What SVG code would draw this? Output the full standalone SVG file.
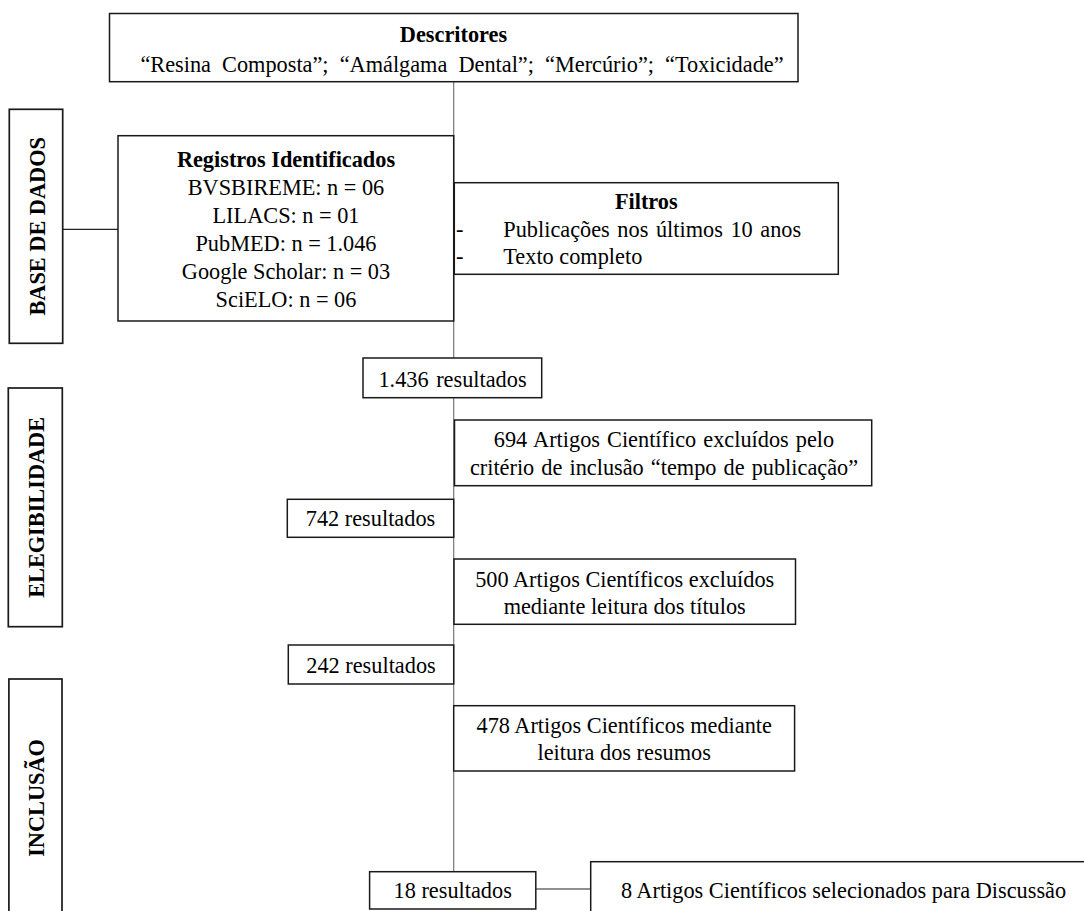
<svg xmlns="http://www.w3.org/2000/svg" width="1084" height="911" viewBox="0 0 1084 911">
<style>
text{font-family:"Liberation Serif","Times New Roman",serif;font-size:22.3px;fill:#000}
.b{font-weight:bold}
.c{text-anchor:middle}
.box{fill:#fff;stroke:#1a1a1a;stroke-width:1.5}
.side{fill:#fff;stroke:#1a1a1a;stroke-width:1.7}
.ln{stroke:#777;stroke-width:1.2;fill:none}
.lk{stroke:#222;stroke-width:1.2;fill:none}
</style>
<rect width="1084" height="911" fill="#fff"/>
<g id="connectors">
<line class="ln" x1="453.7" y1="82" x2="453.7" y2="872"/>
<line class="lk" x1="62.7" y1="229.3" x2="118" y2="229.3"/>
<line class="lk" x1="535.8" y1="889" x2="590.7" y2="889"/>
</g>
<g id="descritores">
<rect class="box" x="109.5" y="13.5" width="688.5" height="68.2"/>
<text class="b c" x="453.5" y="42">Descritores</text>
<text class="c" x="462" y="72" word-spacing="5.5">“Resina Composta”; “Amálgama Dental”; “Mercúrio”; “Toxicidade”</text>
</g>
<g id="base-de-dados">
<rect class="side" x="9.3" y="109.3" width="53.4" height="234"/>
<text class="b c" transform="translate(44.5,226.3) rotate(-90)">BASE DE DADOS</text>
</g>
<g id="registros">
<rect class="box" x="118" y="135.7" width="335.7" height="185.3"/>
<text class="b c" x="286" y="167">Registros Identificados</text>
<text class="c" x="286" y="195">BVSBIREME: n = 06</text>
<text class="c" x="286" y="223">LILACS: n = 01</text>
<text class="c" x="286" y="251">PubMED: n = 1.046</text>
<text class="c" x="286" y="279">Google Scholar: n = 03</text>
<text class="c" x="286" y="307">SciELO: n = 06</text>
</g>
<g id="filtros">
<rect class="box" x="454.3" y="182.7" width="384" height="91.6"/>
<text class="b c" x="646.3" y="209">Filtros</text>
<text x="456" y="237">-</text>
<text x="503.3" y="237" word-spacing="2">Publicações nos últimos 10 anos</text>
<text x="456" y="263.5">-</text>
<text x="503.3" y="263.5">Texto completo</text>
</g>
<g id="r1436">
<rect class="box" x="363" y="358" width="178.7" height="39.7"/>
<text class="c" x="452.5" y="387" word-spacing="2">1.436 resultados</text>
</g>
<g id="elegibilidade">
<rect class="side" x="8.3" y="388" width="54" height="238.7"/>
<text class="b c" transform="translate(44,507.4) rotate(-90)">ELEGIBILIDADE</text>
</g>
<g id="excl694">
<rect class="box" x="454.5" y="420" width="417.2" height="65.7"/>
<text class="c" x="664" y="447" word-spacing="1.5">694 Artigos Científico excluídos pelo</text>
<text class="c" x="664" y="475" word-spacing="1.5">critério de inclusão “tempo de publicação”</text>
</g>
<g id="r742">
<rect class="box" x="287.3" y="499.3" width="166.4" height="38"/>
<text class="c" x="370.5" y="526">742 resultados</text>
</g>
<g id="excl500">
<rect class="box" x="454" y="559" width="341.5" height="65.3"/>
<text class="c" x="624.7" y="587">500 Artigos Científicos excluídos</text>
<text class="c" x="624.7" y="614">mediante leitura dos títulos</text>
</g>
<g id="r242">
<rect class="box" x="288.3" y="645" width="165.4" height="39"/>
<text class="c" x="371" y="673">242 resultados</text>
</g>
<g id="inclusao">
<rect class="side" x="8.9" y="679" width="53.1" height="240"/>
<text class="b c" transform="translate(44,798) rotate(-90)">INCLUSÃO</text>
</g>
<g id="a478">
<rect class="box" x="453.7" y="705.7" width="340.9" height="65.3"/>
<text class="c" x="624.2" y="733">478 Artigos Científicos mediante</text>
<text class="c" x="624.2" y="760">leitura dos resumos</text>
</g>
<g id="r18">
<rect class="box" x="369.6" y="871.7" width="166.2" height="37.3"/>
<text class="c" x="452.7" y="898">18 resultados</text>
</g>
<g id="sel8">
<rect class="box" x="590.7" y="861.7" width="506" height="70"/>
<text class="c" x="843.5" y="898">8 Artigos Científicos selecionados para Discussão</text>
</g>
</svg>
